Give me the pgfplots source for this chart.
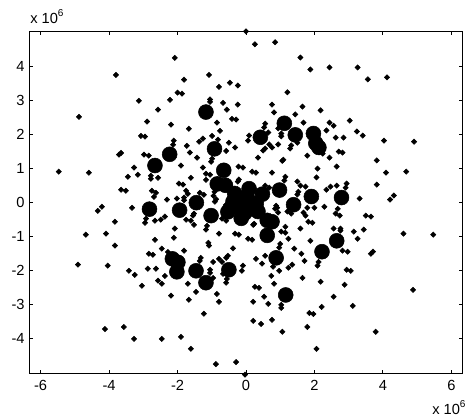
\documentclass[border=0pt]{standalone}
\usepackage{fontspec}
\setmainfont{Liberation Sans}
\usepackage{pgfplots}
\usepackage{pgfplotstable}
\pgfplotsset{compat=1.18}

% scattered single points, in units of 10^6
\pgfplotstableread{
x y
-2.08 4.25
-3.80 3.75
-1.08 3.75
-1.81 3.61
-0.47 3.52
-0.79 3.40
-2.00 3.23
-1.87 3.20
-3.13 2.99
-2.22 3.02
-1.05 3.03
-1.05 2.96
-0.67 2.93
-2.57 2.73
-0.56 2.73
-4.88 2.52
-2.89 2.38
-0.85 2.35
-0.41 2.46
-2.19 2.29
-1.67 2.17
-0.76 2.11
-3.07 1.96
-2.95 1.94
-2.11 1.82
-2.13 1.70
-1.26 1.88
-1.37 1.79
-0.99 1.96
-0.82 1.85
-0.50 1.76
-1.73 1.67
-1.64 1.47
-2.98 1.41
-2.84 1.38
-1.43 1.32
-0.58 1.52
-0.99 1.29
-1.02 1.20
-1.90 1.09
-1.26 1.03
-3.27 1.03
-3.65 1.46
-3.71 1.41
-5.47 0.91
-4.59 0.88
-3.45 0.76
-3.16 0.82
-1.17 0.85
-1.05 0.82
-2.78 0.79
-2.78 0.70
-2.57 0.73
-1.61 0.73
-1.17 0.67
-1.96 0.56
-1.84 0.53
-3.65 0.38
-3.51 0.35
-2.75 0.35
-2.63 0.29
-2.69 0.17
-1.75 0.35
-1.70 0.26
-1.35 0.29
-1.23 0.23
-2.31 0.09
-2.02 0.12
-1.81 0.15
-1.81 0.07
-4.21 -0.12
-4.33 -0.24
-3.33 -0.15
-3.83 -0.56
-4.68 -0.94
-4.09 -0.91
-3.83 -1.26
-4.91 -1.82
-4.04 -1.85
-3.42 -2.00
-3.25 -2.12
-3.04 -2.44
-4.12 -3.71
-3.57 -3.65
-3.27 -4.00
-2.46 -4.00
-1.90 -3.94
-1.61 -4.29
-0.88 -4.74
-1.23 -3.26
-0.79 -2.91
-0.85 -2.68
-1.67 -2.85
-2.19 -2.73
-1.46 -2.62
-1.70 -2.38
-2.46 -2.38
-2.57 -2.29
-2.37 -2.15
-2.87 -1.94
-2.63 -1.94
-2.84 -1.50
-2.72 -1.53
-2.46 -1.35
-2.66 -1.09
-2.11 -1.03
-2.08 -0.76
-1.81 -1.41
-2.28 -1.45
-2.92 -0.47
-2.95 -0.59
-2.66 -0.53
-2.49 -0.50
-2.37 -0.41
-1.75 -0.50
-1.61 -0.53
-1.52 -0.65
-1.52 -0.32
-1.55 -0.38
-1.14 -0.68
-1.17 -0.79
-0.79 -0.91
-0.70 -0.47
-0.58 -0.53
-0.91 0.03
-1.10 -1.18
-1.08 -1.26
-1.32 -1.62
-1.35 -1.71
-0.96 -1.74
-0.79 -1.65
-0.70 -1.74
-0.58 -1.62
-0.53 -1.56
-1.05 -1.97
-1.05 -2.06
-0.96 -2.21
-0.67 -2.09
-0.56 -2.24
-0.58 -2.35
0.00 5.03
0.26 4.65
0.85 4.71
1.59 4.26
1.88 3.91
2.44 3.97
3.26 3.97
3.56 3.62
4.12 3.68
-0.24 3.44
1.21 3.24
-0.24 2.88
0.76 2.88
0.82 2.65
1.65 2.82
1.44 2.59
2.18 2.71
-0.29 2.44
3.03 2.41
1.68 2.35
2.44 2.35
2.56 2.26
2.35 2.12
0.56 2.32
0.53 2.21
0.94 2.18
0.65 2.06
3.24 2.09
3.41 1.97
0.09 1.97
0.06 1.82
1.03 2.03
1.03 1.95
2.62 1.91
2.85 1.91
4.03 1.82
4.91 1.79
-0.32 1.62
0.68 1.71
0.76 1.62
0.94 1.71
0.50 1.53
0.56 1.59
1.32 1.68
1.29 1.59
1.50 1.76
1.79 1.38
2.71 1.50
2.82 1.47
2.24 1.44
2.44 1.32
0.35 1.32
1.09 1.26
1.06 1.23
3.82 1.24
-0.22 1.06
-0.09 1.03
2.65 1.06
2.09 1.00
0.18 0.91
0.29 0.88
0.76 0.88
4.09 0.88
4.68 0.91
2.06 0.74
1.15 0.76
1.12 0.65
-0.21 0.68
-0.24 0.62
1.50 0.62
1.59 0.50
1.74 0.47
0.56 0.50
0.68 0.44
2.94 0.56
2.91 0.44
2.65 0.50
2.47 0.47
2.35 0.38
3.82 0.53
1.53 0.32
1.50 0.24
4.32 0.21
4.21 0.09
3.32 0.12
2.29 -0.12
1.79 -0.15
2.00 -0.15
2.74 -0.38
3.50 -0.38
3.65 -0.41
2.62 -0.32
2.68 -0.18
1.68 -0.29
1.74 -0.38
1.21 -0.26
1.32 -0.32
0.88 -0.09
0.85 -0.18
0.94 -0.29
0.91 -0.15
1.82 -0.56
1.94 -0.59
1.15 -0.71
0.21 -0.65
0.24 -0.62
1.59 -0.76
2.56 -0.76
2.76 -0.76
2.76 -0.82
3.15 -0.85
3.44 -0.79
1.03 -0.85
1.15 -0.88
1.24 -1.06
-0.32 -0.91
-0.21 -0.94
0.06 -1.06
0.18 -1.09
1.88 -1.12
3.26 -1.06
4.60 -0.91
5.47 -0.94
1.00 -1.21
0.97 -1.32
1.41 -1.35
2.82 -1.41
2.97 -1.44
3.71 -1.44
3.65 -1.50
1.62 -1.50
0.56 -1.56
0.29 -1.65
1.71 -1.71
0.47 -1.79
0.79 -1.88
1.35 -1.82
1.24 -1.91
-0.09 -1.85
-0.12 -2.00
0.97 -2.00
2.12 -1.74
2.09 -1.85
2.94 -1.97
3.06 -2.00
0.74 -2.15
1.65 -2.21
2.18 -2.32
0.82 -2.38
2.88 -2.41
0.26 -2.47
0.38 -2.50
4.88 -2.56
2.56 -2.76
0.53 -2.76
0.21 -2.91
0.65 -2.97
1.03 -3.00
1.03 -3.09
2.21 -3.06
3.12 -3.03
1.85 -3.24
1.97 -3.27
0.21 -3.47
0.44 -3.56
0.76 -3.44
1.79 -3.65
1.06 -3.79
3.79 -3.79
2.06 -4.29
-0.29 -4.68
-0.03 -5.05
-0.92 0.32
-0.95 0.20
-0.87 0.10
-0.59 -0.07
-0.38 -1.34
}\singles

% dense clusters, drawn with a big marker
\pgfplotstableread{
x y
-1.17 2.66
-0.92 1.58
-2.23 1.42
-2.66 1.09
-1.45 0.00
-2.82 -0.19
-1.94 -0.22
-1.02 -0.38
-0.53 -0.27
-2.15 -1.65
-1.99 -1.75
-2.02 -2.03
-1.46 -2.00
-1.17 -2.35
-0.50 -1.97
1.12 2.33
0.42 1.92
1.44 1.99
1.97 2.03
2.13 1.62
2.04 1.74
0.98 0.37
0.09 0.41
0.48 0.25
1.91 0.18
2.79 0.15
1.39 -0.06
0.76 -0.56
0.62 -0.52
0.62 -0.96
0.88 -1.62
2.22 -1.44
2.65 -1.12
1.16 -2.71
-0.65 0.95
-0.84 0.55
-0.60 0.51
-0.33 0.27
-0.14 -0.46
-0.19 0.13
0.03 0.18
-0.19 -0.17
0.09 -0.17
0.30 -0.02
0.35 -0.26
-0.38 0.03
-0.04 -0.31
-0.02 -0.02
}\clusters

\begin{document}
\begin{tikzpicture}
\useasboundingbox (-22pt,-34.5pt) rectangle (329pt,280.5pt);
\begin{axis}[
    at={(0pt,0pt)},
    anchor=south west,
    scale only axis,
    width=325pt,
    height=257pt,
    xmin=-6.33,xmax=6.33,
    ymin=-5.03,ymax=5.03,
    xtick={-6,-4,-2,0,2,4,6},
    xticklabels={-6,-4,-2,0,2,4,6},
    ytick={-4,-3,-2,-1,0,1,2,3,4},
    yticklabels={-4,-3,-2,-1,0,1,2,3,4},
    tick align=inside,
    major tick length=3pt,
    tick style={black,line width=0.75pt},
    axis line style={line width=0.75pt},
    tick label style={font=\fontsize{11}{13}\selectfont},
    xticklabel style={yshift=-1.5pt},
    clip=false,
    axis on top=false
]
\addplot[only marks,mark=square*,mark size=1.4pt,
    mark options={rotate=45,draw=none,fill=black}] table {\singles};
\addplot[only marks,mark=*,mark size=5.6pt,
    mark options={draw=none,fill=black}] table {\clusters};
\end{axis}
\node[anchor=base west,inner sep=0pt,font=\fontsize{11}{13}\selectfont] at (0.5pt,263pt) {x 10\raisebox{5pt}{\fontsize{7.5}{9}\selectfont 6}};
\node[anchor=base west,inner sep=0pt,font=\fontsize{11}{13}\selectfont] at (302pt,-30.5pt) {x 10\raisebox{5pt}{\fontsize{7.5}{9}\selectfont 6}};
\end{tikzpicture}
\end{document}
